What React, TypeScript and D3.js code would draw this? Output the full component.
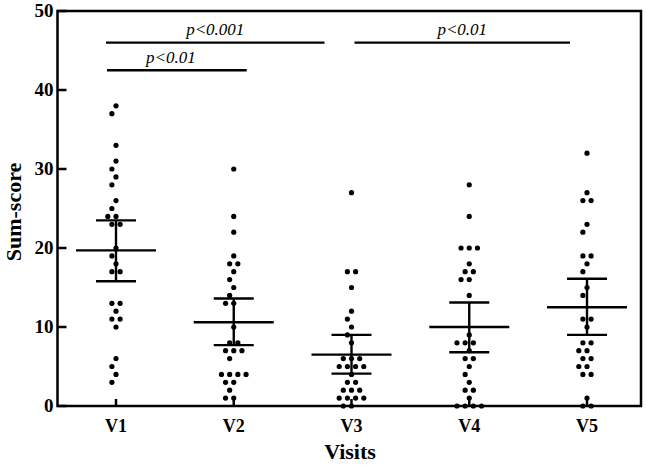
import React from 'react';
import * as d3 from 'd3';

const categories = ['V1', 'V2', 'V3', 'V4', 'V5'];
const v1Scores = [38, 37, 33, 31, 30, 29, 28, 26, 25, 24, 24, 23, 23, 20, 19, 18, 17, 17, 13, 13, 12, 11, 11, 10, 6, 5, 4, 3];
const v2Scores = [30, 24, 22, 19, 18, 18, 17, 16, 15, 14, 13, 13, 10, 8, 8, 7, 7, 7, 6, 4, 4, 4, 4, 3, 3, 2, 1, 1];
const v3Scores = [27, 17, 17, 15, 12, 11, 10, 9, 8, 6, 6, 6, 5, 5, 5, 5, 4, 3, 3, 2, 2, 2, 1, 1, 1, 1, 0, 0];
const v4Scores = [28, 24, 20, 20, 20, 18, 17, 17, 16, 16, 14, 9, 8, 8, 8, 7, 6, 6, 5, 4, 3, 2, 2, 1, 0, 0, 0, 0];
const v5Scores = [32, 27, 26, 26, 23, 22, 19, 19, 18, 17, 15, 14, 11, 11, 10, 8, 8, 7, 7, 6, 6, 5, 5, 4, 4, 1, 0, 0];
const seriesScores = [v1Scores, v2Scores, v3Scores, v4Scores, v5Scores];
const means = [19.7, 10.6, 6.5, 10.0, 12.5];
const ciLow = [15.8, 7.7, 4.1, 6.8, 9.0];
const ciHigh = [23.5, 13.6, 9.0, 13.1, 16.1];
const yTicks = [0, 10, 20, 30, 40, 50];
const compFrom = ['V1', 'V1', 'V3'];
const compTo = ['V3', 'V2', 'V5'];
const compLabels = ['p<0.001', 'p<0.01', 'p<0.01'];
const compLevels = [46, 42.5, 46];

const W = 646, H = 466;
const left = 57.5, right = 641, top = 11, bottom = 406;
const FONT = '"Liberation Serif", "Times New Roman", serif';
const bracketPad: [number, number][] = [[-10, -27], [-9, 13], [3, -17]];
const textShift = [0, -6, 0];

function swarm(values: number[], y: (v: number) => number, spacing: number, minDist: number) {
  const placed: { dx: number; cy: number; v: number }[] = [];
  const groups = d3.groups(values, (v) => v).sort((a, b) => b[0] - a[0]);
  for (const [v, arr] of groups) {
    const n = arr.length;
    const cy = y(v);
    const shifts = [0];
    for (let k = 1; k < 20; k++) { shifts.push(-k * spacing / 2, k * spacing / 2); }
    for (const s of shifts) {
      const cand = d3.range(n).map((i) => s + (i - (n - 1) / 2) * spacing);
      const ok = cand.every((dx) => placed.every((p) => Math.hypot(p.dx - dx, p.cy - cy) >= minDist));
      if (ok) { cand.forEach((dx) => placed.push({ dx, cy, v })); break; }
    }
  }
  return placed;
}

export default function App() {
  const x = d3.scalePoint<string>().domain(categories).range([116, 587]);
  const y = d3.scaleLinear().domain([0, 50]).range([bottom, top]);
  const lw = 2.4;

  return (
    <svg width={W} height={H} style={{ position: 'absolute', left: 0, top: 0, background: '#fff' }} fontFamily={FONT}>
      <rect x={0} y={0} width={W} height={H} fill="#fff" />
      {/* dots */}
      {categories.map((c, i) => {
        const pts = swarm(seriesScores[i], y, 8.2, 8.4);
        return (
          <g key={c}>
            {pts.map((p, j) => (
              <circle key={j} cx={(x(c) as number) + p.dx} cy={p.cy} r={2.6} fill="#000" />
            ))}
          </g>
        );
      })}
      {/* mean and CI */}
      {categories.map((c, i) => {
        const cx = x(c) as number;
        return (
          <g key={'e' + c} stroke="#000" strokeWidth={lw}>
            <line x1={cx - 40} x2={cx + 40} y1={y(means[i])} y2={y(means[i])} />
            <line x1={cx} x2={cx} y1={y(ciLow[i])} y2={y(ciHigh[i])} />
            <line x1={cx - 20} x2={cx + 20} y1={y(ciLow[i])} y2={y(ciLow[i])} />
            <line x1={cx - 20} x2={cx + 20} y1={y(ciHigh[i])} y2={y(ciHigh[i])} />
          </g>
        );
      })}
      {/* frame */}
      <rect x={left} y={top} width={right - left} height={bottom - top} fill="none" stroke="#000" strokeWidth={2.5} />
      {/* y ticks */}
      {yTicks.map((t) => (
        <g key={t}>
          <line x1={left} x2={left + 9} y1={y(t)} y2={y(t)} stroke="#000" strokeWidth={2.5} />
          <text x={left - 4} y={y(t)} dy="0.34em" textAnchor="end" fontWeight="bold" fontSize={19}>{t}</text>
        </g>
      ))}
      {/* x ticks */}
      {categories.map((c) => (
        <g key={'x' + c}>
          <line x1={x(c)} x2={x(c)} y1={bottom} y2={bottom - 7} stroke="#000" strokeWidth={2.5} />
          <text x={x(c)} y={432} textAnchor="middle" fontWeight="bold" fontSize={18}>{c}</text>
        </g>
      ))}
      <text x={350} y={459} textAnchor="middle" fontWeight="bold" fontSize={22}>Visits</text>
      <text transform={`translate(21,212) rotate(-90)`} textAnchor="middle" fontWeight="bold" fontSize={22}>Sum-score</text>
      {/* comparisons */}
      {compLabels.map((lab, i) => {
        const x1 = (x(compFrom[i]) as number) + bracketPad[i][0];
        const x2 = (x(compTo[i]) as number) + bracketPad[i][1];
        const yy = y(compLevels[i]);
        return (
          <g key={'c' + i}>
            <line x1={x1} x2={x2} y1={yy} y2={yy} stroke="#000" strokeWidth={2.3} />
            <text x={(x1 + x2) / 2 + textShift[i]} y={yy - 7.5} textAnchor="middle" fontStyle="italic" fontSize={17}>{lab}</text>
          </g>
        );
      })}
    </svg>
  );
}
